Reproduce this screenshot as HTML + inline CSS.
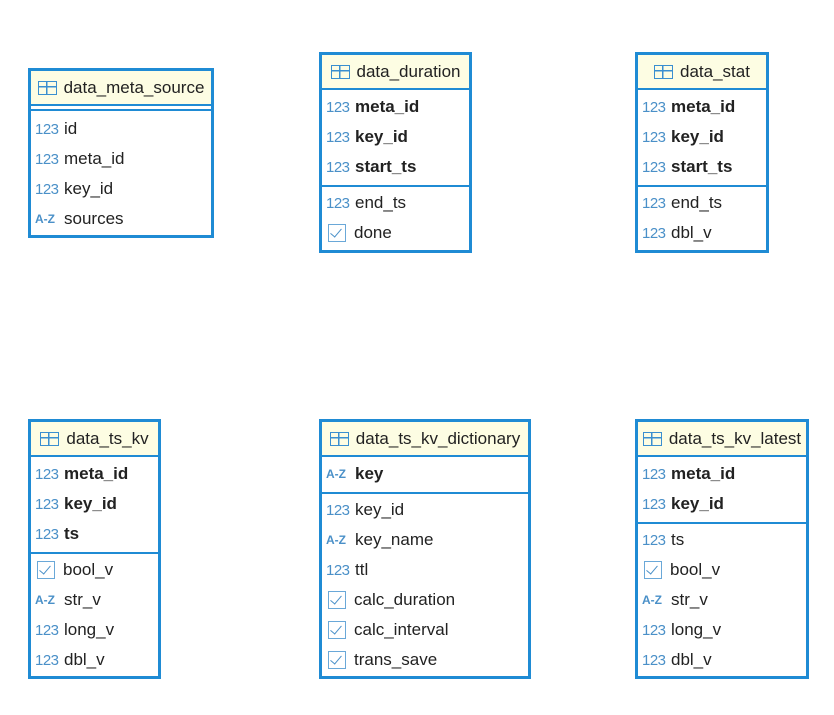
<!DOCTYPE html>
<html><head><meta charset="utf-8"><style>
body{margin:0;width:834px;height:715px;background:#fff;position:relative;font-family:"Liberation Sans",Arial,sans-serif;overflow:hidden}
.t{position:absolute;border:3px solid #1f8bd4;box-sizing:border-box;background:#fff}
.h{height:33px;background:#fdfde3;border-bottom:2px solid #1f8bd4;display:flex;align-items:center;justify-content:center;font-size:17px;color:#222;white-space:nowrap}
.h .ic{width:19px;height:14px;border:1.5px solid #3a8fd0;box-sizing:border-box;margin-right:7px;position:relative;background:linear-gradient(#3a8fd0,#3a8fd0) 0 4px/100% 1.5px no-repeat,linear-gradient(#3a8fd0,#3a8fd0) 7px 0/1.5px 100% no-repeat}
.s{padding:2px 0 3px}
.s+.s{border-top:2px solid #1f8bd4;padding:1px 0 2px}
.r{height:30px;display:flex;align-items:center;font-size:17px;color:#222;padding-left:4px;white-space:nowrap}
.r b{font-weight:bold}
.n{color:#4a90c8;font-size:15px;width:29px;letter-spacing:-0.5px}
.a{color:#4a90c8;font-size:12px;font-weight:bold;width:29px}
.c{width:18px;height:18px;border:1.5px solid #6aa8d8;box-sizing:border-box;margin:0 8px 0 2px;position:relative}
.c:after{content:"";position:absolute;left:4px;top:1px;width:5px;height:10px;border:solid #4a90c8;border-width:0 1.5px 1.5px 0;transform:rotate(40deg)}
</style></head><body>

<div class="t" style="left:28px;top:68px;width:186px;height:170px">
<div class="h"><span class="ic"></span>data_meta_source</div>
<div class="s" style="padding:0;height:3px"></div>
<div class="s" style="padding-top:3px">
<div class="r"><span class="n">123</span>id</div>
<div class="r"><span class="n">123</span>meta_id</div>
<div class="r"><span class="n">123</span>key_id</div>
<div class="r"><span class="a">A-Z</span>sources</div>
</div></div>

<div class="t" style="left:319px;top:52px;width:153px;height:201px">
<div class="h"><span class="ic"></span>data_duration</div>
<div class="s">
<div class="r"><span class="n">123</span><b>meta_id</b></div>
<div class="r"><span class="n">123</span><b>key_id</b></div>
<div class="r"><span class="n">123</span><b>start_ts</b></div>
</div><div class="s">
<div class="r"><span class="n">123</span>end_ts</div>
<div class="r"><span class="c"></span>done</div>
</div></div>

<div class="t" style="left:635px;top:52px;width:134px;height:201px">
<div class="h"><span class="ic"></span>data_stat</div>
<div class="s">
<div class="r"><span class="n">123</span><b>meta_id</b></div>
<div class="r"><span class="n">123</span><b>key_id</b></div>
<div class="r"><span class="n">123</span><b>start_ts</b></div>
</div><div class="s">
<div class="r"><span class="n">123</span>end_ts</div>
<div class="r"><span class="n">123</span>dbl_v</div>
</div></div>

<div class="t" style="left:28px;top:419px;width:133px;height:260px">
<div class="h"><span class="ic"></span>data_ts_kv</div>
<div class="s">
<div class="r"><span class="n">123</span><b>meta_id</b></div>
<div class="r"><span class="n">123</span><b>key_id</b></div>
<div class="r"><span class="n">123</span><b>ts</b></div>
</div><div class="s">
<div class="r"><span class="c"></span>bool_v</div>
<div class="r"><span class="a">A-Z</span>str_v</div>
<div class="r"><span class="n">123</span>long_v</div>
<div class="r"><span class="n">123</span>dbl_v</div>
</div></div>

<div class="t" style="left:319px;top:419px;width:212px;height:260px">
<div class="h"><span class="ic"></span>data_ts_kv_dictionary</div>
<div class="s">
<div class="r"><span class="a">A-Z</span><b>key</b></div>
</div><div class="s">
<div class="r"><span class="n">123</span>key_id</div>
<div class="r"><span class="a">A-Z</span>key_name</div>
<div class="r"><span class="n">123</span>ttl</div>
<div class="r"><span class="c"></span>calc_duration</div>
<div class="r"><span class="c"></span>calc_interval</div>
<div class="r"><span class="c"></span>trans_save</div>
</div></div>

<div class="t" style="left:635px;top:419px;width:174px;height:260px">
<div class="h"><span class="ic"></span>data_ts_kv_latest</div>
<div class="s">
<div class="r"><span class="n">123</span><b>meta_id</b></div>
<div class="r"><span class="n">123</span><b>key_id</b></div>
</div><div class="s">
<div class="r"><span class="n">123</span>ts</div>
<div class="r"><span class="c"></span>bool_v</div>
<div class="r"><span class="a">A-Z</span>str_v</div>
<div class="r"><span class="n">123</span>long_v</div>
<div class="r"><span class="n">123</span>dbl_v</div>
</div></div>

</body></html>
